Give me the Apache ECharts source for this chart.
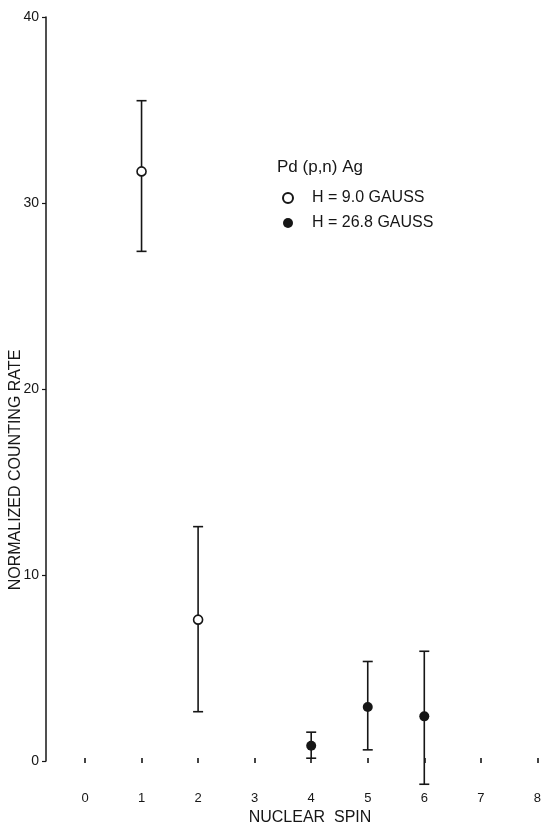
<!DOCTYPE html>
<html>
<head>
<meta charset="utf-8">
<script src="https://cdn.jsdelivr.net/npm/echarts@6/dist/echarts.min.js"></script>
<style>
  html, body { margin: 0; padding: 0; background: #fff; }
  #ChartDom { width: 544px; height: 829px; }
</style>
</head>
<body>
<div id="ChartDom"></div>
<script>
// nuclear spin, measured points and error bar ends
const spinOpen = [1, 2]
const rateOpen = [31.7, 7.6]
const lowOpen = [27.4, 2.65]
const highOpen = [35.5, 12.6]

const spinFilled = [4, 5, 6]
const rateFilled = [0.82, 2.9, 2.4]
const lowFilled = [0.15, 0.6, -1.25]
const highFilled = [1.55, 5.35, 5.9]

const ink = "#161616"
const font = "'Liberation Sans', Arial, sans-serif"

const chartDom = document.getElementById("ChartDom")
const myChart = echarts.init(chartDom)

function errorBars(spins, lows, highs) {
  return spins.map((s, i) => [s, lows[i], highs[i]])
}

function renderErrorBar(params, api) {
  const top = api.coord([api.value(0), api.value(2)])
  const bottom = api.coord([api.value(0), api.value(1)])
  const half = 5
  const style = { stroke: ink, lineWidth: 1.6 }
  return {
    type: "group",
    children: [
      { type: "line", shape: { x1: top[0], y1: top[1], x2: bottom[0], y2: bottom[1] }, style: style },
      { type: "line", shape: { x1: top[0] - half, y1: top[1], x2: top[0] + half, y2: top[1] }, style: style },
      { type: "line", shape: { x1: bottom[0] - half, y1: bottom[1], x2: bottom[0] + half, y2: bottom[1] }, style: style },
    ],
  }
}

let option = {
  backgroundColor: "#fff",
  animation: false,
  textStyle: { fontFamily: font, color: ink },
  grid: {
    left: 85,
    right: 6,
    top: 17,
    bottom: 68,
  },
  legend: {
    orient: "vertical",
    left: 277,
    top: 185,
    itemWidth: 38,
    itemHeight: 10,
    itemGap: 9,
    data: ["H = 9.0 GAUSS", "H = 26.8 GAUSS"],
    textStyle: { fontSize: 16, color: ink, fontFamily: font, lineHeight: 16 },
  },
  graphic: [
    {
      type: "text",
      left: 277,
      top: 159,
      style: { text: "Pd (p,n) Ag", fontSize: 17, fill: ink, fontFamily: font },
    },
    {
      type: "text",
      x: 16,
      y: 470,
      rotation: Math.PI / 2,
      style: {
        text: "NORMALIZED COUNTING RATE",
        fontSize: 16,
        fill: ink,
        fontFamily: font,
        align: "center",
        verticalAlign: "middle",
      },
    },
    {
      type: "text",
      x: 310,
      y: 818,
      style: {
        text: "NUCLEAR  SPIN",
        fontSize: 16,
        fill: ink,
        fontFamily: font,
        align: "center",
        verticalAlign: "middle",
      },
    },
  ],
  xAxis: {
    type: "value",
    min: 0,
    max: 8,
    interval: 1,
    offset: -3,
    axisLine: { show: false },
    axisTick: { show: true, length: 5, lineStyle: { color: ink, width: 1.6 } },
    splitLine: { show: false },
    axisLabel: { color: ink, fontSize: 13, margin: 34, fontFamily: font },
  },
  yAxis: {
    type: "value",
    min: 0,
    max: 40,
    interval: 10,
    offset: 39,
    axisLine: { show: true, onZero: false, lineStyle: { color: ink, width: 1.5 } },
    axisTick: { show: true, length: 4, lineStyle: { color: ink, width: 1.2 } },
    splitLine: { show: false },
    axisLabel: { color: ink, fontSize: 14, margin: 7, fontFamily: font },
  },
  series: [
    {
      type: "custom",
      name: "bars open",
      renderItem: renderErrorBar,
      encode: { x: 0, y: [1, 2] },
      clip: false,
      z: 2,
      data: errorBars(spinOpen, lowOpen, highOpen),
    },
    {
      type: "custom",
      name: "bars filled",
      renderItem: renderErrorBar,
      encode: { x: 0, y: [1, 2] },
      clip: false,
      z: 2,
      data: errorBars(spinFilled, lowFilled, highFilled),
    },
    {
      type: "scatter",
      name: "H = 9.0 GAUSS",
      symbol: "circle",
      symbolSize: 9,
      z: 5,
      itemStyle: { color: "#fff", borderColor: ink, borderWidth: 1.6, opacity: 1 },
      data: spinOpen.map((s, i) => [s, rateOpen[i]]),
    },
    {
      type: "scatter",
      name: "H = 26.8 GAUSS",
      symbol: "circle",
      symbolSize: 10,
      z: 5,
      itemStyle: { color: ink, opacity: 1 },
      data: spinFilled.map((s, i) => [s, rateFilled[i]]),
    },
  ],
}

myChart.setOption(option)
</script>
</body>
</html>
